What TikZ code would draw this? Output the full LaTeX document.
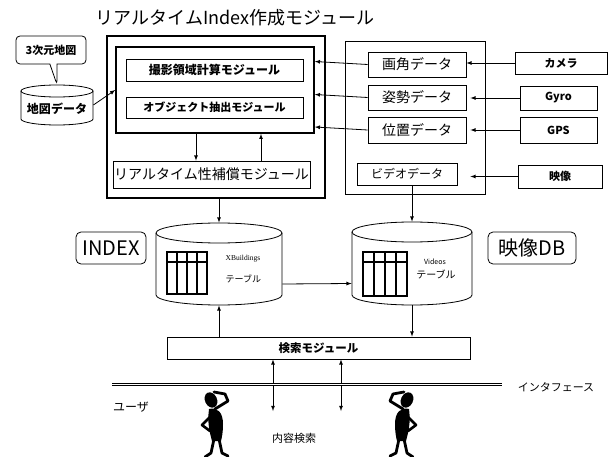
\documentclass[tikz,border=0pt]{standalone}
\usepackage{fontspec}
\setmainfont{Noto Sans CJK JP}
\newfontfamily\xbfont{Liberation Serif}
\usetikzlibrary{shapes.geometric, shapes.callouts, arrows, positioning}

\tikzset{thinker/.pic={
    \fill (0,0) ellipse [x radius=6, y radius=8, rotate=25];
    \draw[line width=2.8pt, line cap=round, line join=round] (4,9) -- (17,1) -- (14,-6) -- (3,-8);
    \fill (-2,9) .. controls (6,7) and (12,12) .. (12,24) .. controls (12,32) and (11,37) .. (10,41) -- (1,41) .. controls (-1,33) and (-4,24) .. cycle;
    \draw[line width=2.6pt, line cap=round, line join=round] (1,15) -- (-9,25) -- (-1,31);
    \draw[line width=2.8pt, line cap=round, line join=round] (3,39) -- (0,53) -- (-6,57);
    \draw[line width=2.8pt, line cap=round, line join=round] (8,39) -- (11,53) -- (17,56);
}}

\begin{document}
\begin{tikzpicture}[x=1pt, y=-1pt, line width=0.8pt,
    box/.style={draw, inner sep=0pt},
    frame/.style={draw, line width=1.6pt, inner sep=0pt},
    dbspot/.style={inner sep=0pt},
    tag/.style={draw, rounded corners=5pt, inner sep=0pt, font=\fontsize{20}{20}\selectfont},
    arr/.style={-latex}]
\useasboundingbox (0,0) rectangle (610,457);

% realtime index module
\node[font=\fontsize{18}{18}\selectfont] (title) at (235,18) {リアルタイムIndex作成モジュール};
\node[frame, minimum width=218pt, minimum height=162pt] (rtindex) at (216,117) {};
\node[frame, minimum width=198pt, minimum height=86pt] (core) at (215,90) {};
\node[box, minimum width=177pt, minimum height=22pt, font=\bfseries\fontsize{12}{12}\selectfont] (satsuei) at (214.5,70) {撮影領域計算モジュール};
\node[box, minimum width=177pt, minimum height=21pt, font=\bfseries\fontsize{11}{11}\selectfont] (object) at (214.5,107.5) {オブジェクト抽出モジュール};
\node[box, minimum width=197pt, minimum height=27pt, font=\fontsize{14}{14}\selectfont] (hosho) at (211.5,174.5) {リアルタイム性補償モジュール};
\draw[arr] ([xshift=-19pt]core.south) -- ([xshift=-15.5pt]hosho.north);
\draw[arr] ([xshift=49.5pt]hosho.north) -- ([xshift=46pt]core.south);

% map data
\node[dbspot, minimum width=72pt, minimum height=40pt] (chizu) at (57,105) {};
\draw (21,91) -- (21,119) arc[start angle=180, end angle=0, x radius=36, y radius=6] -- (93,91);
\draw (57,91) ellipse [x radius=36, y radius=6];
\node[font=\bfseries\fontsize{12}{12}\selectfont] (chizulbl) at (57,109) {地図データ};
\node[rectangle callout, draw, rounded corners=4pt, minimum width=70pt, minimum height=28pt, inner sep=0pt,
      callout absolute pointer={(chizu.north)}, font=\bfseries\fontsize{11}{11}\selectfont] (sanjigen) at (51,50) {3次元地図};
\draw[arr] (chizu.east) -- (core.west);

% sensor data
\node[box, minimum width=140pt, minimum height=153pt] (datagrp) at (415,117.5) {};
\node[box, minimum width=98pt, minimum height=25pt, font=\fontsize{14}{14}\selectfont] (gakaku) at (417,64.5) {画角データ};
\node[box, minimum width=98pt, minimum height=25pt, font=\fontsize{14}{14}\selectfont] (shisei) at (417,97.5) {姿勢データ};
\node[box, minimum width=98pt, minimum height=26pt, font=\fontsize{14}{14}\selectfont] (ichi) at (417,130) {位置データ};
\node[box, minimum width=100pt, minimum height=22pt, font=\fontsize{12}{12}\selectfont] (vdata) at (407,174) {ビデオデータ};

\node[box, minimum width=92pt, minimum height=22pt, font=\bfseries\fontsize{11}{11}\selectfont] (camera) at (561,63) {カメラ};
\node[box, minimum width=77pt, minimum height=24pt, font=\bfseries\fontsize{11}{11}\selectfont] (gyro) at (558.5,98) {Gyro};
\node[box, minimum width=77pt, minimum height=26pt, font=\bfseries\fontsize{11}{11}\selectfont] (gps) at (558.5,130) {GPS};
\node[box, minimum width=84pt, minimum height=23pt, font=\bfseries\fontsize{11}{11}\selectfont] (eizo) at (560,176.5) {映像};

\draw[arr] (camera.west) -- (camera.west -| gakaku.east);
\draw[arr, shorten >=4pt] (gyro.west) -- (gyro.west -| shisei.east);
\draw[arr, shorten >=4pt] (gps.west) -- (gps.west -| ichi.east);
\draw[arr, shorten >=4pt] (eizo.west) -- (eizo.west -| ichi.east);
\foreach \n in {gakaku, shisei, ichi}
    \draw[arr] (\n.west) -- ([yshift=3pt]\n.west -| core.east);

% databases
\node[dbspot, minimum width=126pt, minimum height=82pt] (xbld) at (219,264) {};
\draw (156,233) -- (156,295) arc[start angle=180, end angle=0, x radius=63, y radius=10] -- (282,233);
\draw (219,233) ellipse [x radius=63, y radius=10];
\node[dbspot, minimum width=120pt, minimum height=83pt] (vdb) at (412,263.5) {};
\draw (352,232) -- (352,295) arc[start angle=180, end angle=0, x radius=60, y radius=10] -- (472,232);
\draw (412,232) ellipse [x radius=60, y radius=10];
\node[tag, minimum width=70pt, minimum height=32pt] (index) at (111,248) {INDEX};
\node[tag, minimum width=88pt, minimum height=32pt] (eizodb) at (532,248) {映像DB};

\draw[line width=1.5pt] (167,252) rectangle (207,294) (167,262) -- (207,262);
\foreach \x in {177,187,197}
    \draw[line width=1.5pt] (\x,252) -- (\x,294);
\draw[line width=1.5pt] (363,252) rectangle (407,296) (363,262) -- (407,262);
\foreach \x in {374,385,396}
    \draw[line width=1.5pt] (\x,252) -- (\x,296);

\node[anchor=west, font=\xbfont\fontsize{7.5}{7.5}\selectfont] (xbldname) at (222,259) {XBuildings};
\node[anchor=west, font=\fontsize{9}{9}\selectfont] (xbldtbl) at (222,279) {テーブル};
\node[font=\fontsize{7}{7}\selectfont] (vdbname) at (435,262) {Videos};
\node[font=\fontsize{10}{10}\selectfont] (vdbtbl) at (436,274) {テーブル};

\draw[arr] (xbld.north |- rtindex.south) -- (xbld.north);
\draw[arr] (vdb.north |- vdata.south) -- (vdb.north);
\draw[arr] ([yshift=-20pt]xbld.east) -- ([yshift=-20pt]vdb.west);

% search and users
\node[box, minimum width=303pt, minimum height=22pt, font=\bfseries\fontsize{11.5}{11.5}\selectfont] (search) at (318.5,348) {検索モジュール};
\draw[arr] (xbld.south |- search.north) -- (xbld.south);
\draw[arr] (vdb.south) -- (vdb.south |- search.north);

\coordinate (ask1) at (273,411);
\coordinate (ask2) at (341,411);
\draw[latex-latex] (search.south -| ask1) -- (ask1);
\draw[latex-latex] (search.south -| ask2) -- (ask2);

\draw[double, line width=1.2pt, double distance=1.5pt] (112,384.5) -- (502,384.5);
\node[font=\fontsize{11}{11}\selectfont] (iface) at (556,387) {インタフェース};
\node[font=\fontsize{12}{12}\selectfont] (user) at (131,407) {ユーザ};
\node[font=\fontsize{11}{11}\selectfont] (naiyo) at (294,438) {内容検索};

\pic (userleft) at (211,400) {thinker};
\pic[xscale=-1] (userright) at (407,400) {thinker};
\end{tikzpicture}
\end{document}
